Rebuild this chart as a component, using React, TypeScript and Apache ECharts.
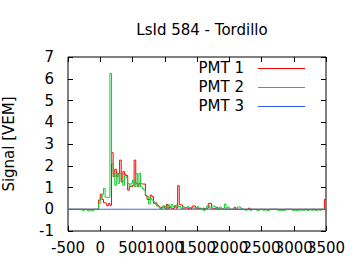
import React, { useEffect, useRef } from "react";
import * as echarts from "echarts";

const TITLE = "LsId 584 - Tordillo";
const Y_NAME = "Signal [VEM]";
const SERIES_NAMES = ["PMT 1", "PMT 2", "PMT 3"];
const COLORS = ["#ff0000", "#10cc30", "#2f5cf0"];
const X_TICKS = [-500, 0, 500, 1000, 1500, 2000, 2500, 3000, 3500];

// bins of 25 ns starting at -500 ns
const BIN_START = -500;
const BIN_WIDTH = 25;

const pmt1: number[] = [
  0, 0, 0, 0, 0, 0, 0, 0, 0, 0, 0, 0, 0, 0, 0, 0, 0, 0, 0, 0.42,
  0.69, 0.45, 0.3, 0.27, 0.16, 0.27, 0.18, 2.6, 1.5, 1.84,
  1.5, 1.65, 2.26, 1.25, 1.73, 1.6, 1.55, 0.88, 1.04, 1.04,
  1.1, 2.26, 1.19, 1.04, 1.19, 1.16, 1.16, 1.16, 0.62, 0.45,
  0.45, 0.65, 0.58, 0.27, 0.3, 0.2, 0.12, 0.04, 0.1, 0.12,
  0.04, 0.22, 0.04, 0.1, 0.04, 0.04, 0.15, 0.05, 1.08, 0.2,
  0.2, 0.05, 0.05, 0.08, 0.04, 0.05, 0.03, 0.15, 0.15, 0.05,
  0.03, 0.04, 0.02, 0.05, 0.03, 0.04, 0.05, 0.27, 0.27, 0.05,
  0.03, 0.02, 0.09, 0.02, 0, 0.02, 0, 0.02, 0, 0,
  0, 0, 0.02, 0.09, 0, 0, 0, 0, 0, 0,
  0, 0, 0.05, 0, 0, 0, 0, 0, 0, 0,
  0, 0, 0, 0, 0, 0, 0, 0, 0, 0,
  0, 0, 0, 0, 0, 0, 0, 0, 0, 0,
  0, 0, 0, 0, 0, 0, 0, 0, 0, 0,
  0, 0, 0, 0, 0, 0, 0, 0, -0.03, 0.45,
];

const pmt2: number[] = [
  0, 0, 0, 0, 0, 0, 0, 0, 0, -0.07, 0, 0, -0.07, -0.07, -0.07, -0.07, 0, 0, 0, 0.27,
  0.55, 0.69, 0.96, 0.55, 0.55, 0.55, 6.25, 2.1, 1.65, 1.1,
  1.65, 1.19, 1.65, 1.34, 1.1, 1.55, 1.45, 1.19, 1.04, 1.19,
  1.34, 1.04, 1.65, 1.04, 1.65, 1.04, 0.96, 0.88, 0.65, 0.58,
  0.24, 0.5, 0.42, 0.35, 0.24, 0.15, 0.12, 0.04, 0.05, 0.16,
  0.12, 0, 0.2, 0.12, 0.22, 0.12, 0.16, 0.2, 0.12, 0.12,
  0.04, 0.12, 0.08, 0.08, 0.12, 0.08, 0.08, 0.05, 0.04, 0.08,
  0.12, 0.05, 0.04, 0.02, -0.06, 0.04, 0.15, 0.15, 0.05, 0.15,
  0.15, 0.1, 0.02, 0.03, 0.1, 0.02, 0.05, 0.24, 0.05, 0.1,
  0, 0, 0, 0, 0, 0.1, 0.1, 0.05, 0, 0,
  -0.05, 0, 0, -0.05, 0, 0, 0, -0.05, -0.05, 0,
  0, -0.05, 0, -0.05, -0.05, 0, 0, 0, 0, 0,
  -0.05, -0.05, -0.05, -0.05, -0.05, 0, 0, 0, 0, -0.05,
  -0.05, -0.05, -0.05, -0.05, 0, -0.05, -0.05, 0, -0.05, -0.05,
  0, -0.05, 0, -0.05, -0.05, 0, -0.05, 0, 0, 0,
];

const pmt3: number[] = [
  0, 0, 0, 0, 0, 0, 0, 0, 0, 0, 0, 0, 0, 0, 0, 0, 0, 0, 0, 0,
  0, 0, 0, 0, 0, 0, 0, 0, 0, 0, 0, 0, 0, 0, 0, 0, 0, 0, 0, 0,
  0, 0, 0, 0, 0, 0, 0, 0, 0, 0, 0, 0, 0, 0, 0, 0, 0, 0, 0, 0,
  0, 0, 0, 0, 0, 0, 0, 0, 0, 0, 0, 0, 0, 0, 0, 0, 0, 0, 0, 0,
  0, 0, 0, 0, 0, 0, 0, 0, 0, 0, 0, 0, 0, 0, 0, 0, 0, 0, 0, 0,
  0, 0, 0, 0, 0, 0, 0, 0, 0, 0, 0, 0, 0, 0, 0, 0, 0, 0, 0, 0,
  0, 0, 0, 0, 0, 0, 0, 0, 0, 0, 0, 0, 0, 0, 0, 0, 0, 0, 0, 0,
  0, 0, 0, 0, 0, 0, 0, 0, 0, 0, 0, 0, 0, 0, 0, 0, 0, 0, 0, 0,
];

const X_MIN = -500;
const X_MAX = 3500;
const Y_MIN = -1;
const Y_MAX = 7;

const FONT = "DejaVu Sans";

function toSteps(values: number[]): [number, number][] {
  const pts: [number, number][] = values.map((v, i) => [BIN_START + i * BIN_WIDTH, v]);
  pts.push([BIN_START + values.length * BIN_WIDTH, values[values.length - 1]]);
  return pts;
}

export default function App() {
  const ref = useRef<HTMLDivElement>(null);
  useEffect(() => {
    if (!ref.current) return;
    const chart = echarts.init(ref.current, null, { renderer: "svg" });
    const all = [pmt1, pmt2, pmt3];
    const tickCommon = { show: true, inside: true, length: 5, lineStyle: { color: "#000", width: 1 } };
    const lineOff = { show: false, onZero: false };
    chart.setOption({
      animation: false,
      backgroundColor: "#fff",
      title: {
        text: TITLE,
        left: 197,
        top: 17,
        textAlign: "center",
        textStyle: { fontFamily: FONT, fontSize: 15, fontWeight: "normal", color: "#000" },
      },
      grid: {
        left: 68,
        right: 34,
        top: 57,
        bottom: 39,
        show: true,
        borderColor: "#000",
        borderWidth: 1,
        backgroundColor: "transparent",
        containLabel: false,
        outerBoundsMode: "none",
      },
      xAxis: [
        {
          type: "value",
          min: X_MIN,
          max: X_MAX,
          interval: 500,
          axisLine: lineOff,
          axisTick: tickCommon,
          splitLine: { show: false },
          axisLabel: { show: false },
        },
        {
          type: "value",
          position: "top",
          min: X_MIN,
          max: X_MAX,
          interval: 500,
          axisLine: lineOff,
          axisTick: tickCommon,
          splitLine: { show: false },
          axisLabel: { show: false },
        },
      ],
      yAxis: [
        {
          type: "value",
          min: Y_MIN,
          max: Y_MAX,
          interval: 1,
          name: Y_NAME,
          nameLocation: "middle",
          nameGap: 52,
          nameMoveOverlap: false,
          nameTextStyle: { fontFamily: FONT, fontSize: 15, color: "#000" },
          axisLine: lineOff,
          axisTick: tickCommon,
          splitLine: { show: false },
          axisLabel: {
            fontFamily: FONT,
            fontSize: 15,
            color: "#000",
            margin: 14,
            showMinLabel: true,
            showMaxLabel: true,
            formatter: (v: number) => String(v),
          },
        },
        {
          type: "value",
          position: "right",
          min: Y_MIN,
          max: Y_MAX,
          interval: 1,
          axisLine: lineOff,
          axisTick: tickCommon,
          splitLine: { show: false },
          axisLabel: { show: false },
        },
      ],
      series: all.map((vals, i) => ({
        name: SERIES_NAMES[i],
        type: "line",
        step: "end",
        xAxisIndex: 0,
        yAxisIndex: 0,
        showSymbol: false,
        symbol: "none",
        itemStyle: { color: COLORS[i] },
        lineStyle: { color: COLORS[i], width: 1 },
        data: toSteps(vals),
        z: 2 + i,
      })),
    });

    // x tick labels placed through the axis scale (they overlap in the reference too)
    const yBase = chart.convertToPixel({ yAxisIndex: 0 }, Y_MIN) as number;
    const legendRows = [68, 87, 106];
    const graphics: any[] = X_TICKS.map((t) => ({
      type: "text",
      x: chart.convertToPixel({ xAxisIndex: 0 }, t) as number,
      y: yBase + 9,
      silent: true,
      style: {
        text: String(t),
        align: "center",
        verticalAlign: "top",
        fontFamily: FONT,
        fontSize: 15,
        fill: "#000",
      },
    }));
    SERIES_NAMES.forEach((name, i) => {
      graphics.push({
        type: "text",
        x: 244,
        y: legendRows[i],
        silent: true,
        style: {
          text: name,
          align: "right",
          verticalAlign: "middle",
          fontFamily: FONT,
          fontSize: 15,
          fill: "#000",
        },
      });
      graphics.push({
        type: "line",
        silent: true,
        shape: { x1: 258, y1: legendRows[i] + 0.5, x2: 305, y2: legendRows[i] + 0.5 },
        style: { stroke: COLORS[i], lineWidth: 1 },
      });
    });
    chart.setOption({ graphic: graphics });
    return () => chart.dispose();
  }, []);
  return (
    <div
      ref={ref}
      style={{ position: "absolute", left: 0, top: 0, width: 360, height: 270 }}
    />
  );
}
